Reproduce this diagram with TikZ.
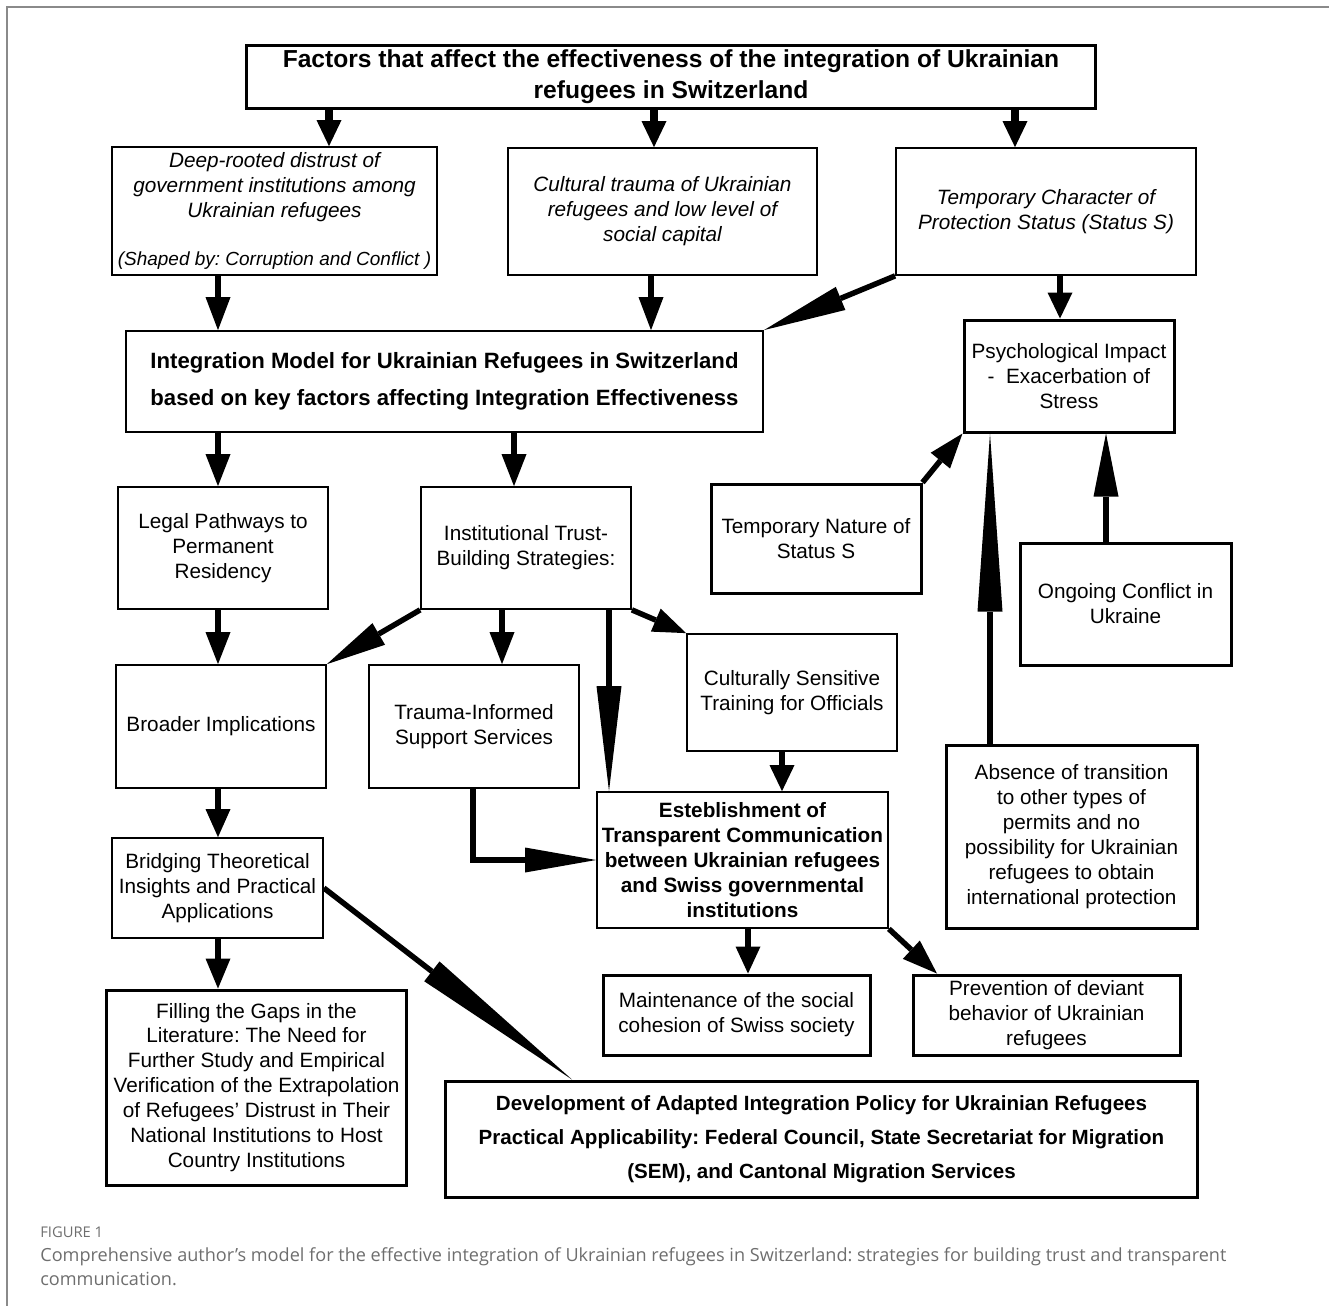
\documentclass[tikz,border=0pt]{standalone}
\usepackage{fontspec}
\setmainfont{Liberation Sans}
\newfontfamily\capfont{Open Sans}
\usetikzlibrary{arrows.meta}
\definecolor{capgray}{HTML}{6E6E6E}
\definecolor{framegray}{HTML}{8A8A8A}
\newcommand\bxfont{\fontsize{11.8}{14.2}\selectfont}
\frenchspacing

\begin{document}
\begin{tikzpicture}[x=0.2mm,y=-0.2mm,
 box/.style={draw,line width=0.35mm,align=center,inner sep=0pt,font=\bxfont},
 tbox/.style={box,line width=0.6mm},
 arr/.style={line width=1.1mm,-{Triangle[length=#1,width=5mm,line width=0pt]}},
 arr/.default=6.4mm,
 arrT/.style={arr=#1,line width=1.6mm}]
\useasboundingbox (0,0) rectangle (1329,1306);
\draw[framegray,line width=0.3mm] (7,1306) -- (7,7) -- (1329,7);

\node[tbox,minimum width=169.6mm,minimum height=12.6mm,font=\fontsize{14}{17.6}\selectfont\bfseries] (title) at (671,76.5)
 {Factors that affect the effectiveness of the integration of Ukrainian\\refugees in Switzerland};
\node[box,minimum width=65mm,minimum height=25.6mm,font=\bxfont\itshape] (distrust) at (274.5,211)
 {Deep-rooted distrust of\\government institutions among\\Ukrainian refugees\\[13pt]{\fontsize{10.8}{14.2}\selectfont(Shaped by: Corruption and Conflict )}};
\node[box,minimum width=61.8mm,minimum height=25.4mm,font=\bxfont\itshape] (trauma) at (662.5,211.5)
 {Cultural trauma of Ukrainian\\refugees and low level of\\social capital};
\node[box,minimum width=60mm,minimum height=25.4mm,font=\bxfont\itshape] (tempchar) at (1046,211.5)
 {Temporary Character of\\Protection Status (Status S)};
\node[box,minimum width=127.4mm,minimum height=20.2mm,font=\fontsize{12.6}{21}\selectfont\bfseries] (model) at (444.5,381.5)
 {Integration Model for Ukrainian Refugees in Switzerland\\based on key factors affecting Integration Effectiveness};
\node[tbox,minimum width=42mm,minimum height=22.4mm] (psych) at (1069,376)
 {Psychological Impact\\-~ Exacerbation of\\Stress};
\node[box,minimum width=42mm,minimum height=24.4mm] (legal) at (223,548)
 {Legal Pathways to\\Permanent\\Residency};
\node[box,minimum width=42mm,minimum height=24.4mm] (trust) at (526,548)
 {Institutional Trust-\\Building Strategies:};
\node[tbox,minimum width=42mm,minimum height=21.8mm] (tempnat) at (816,538.5)
 {Temporary Nature of\\Status S};
\node[tbox,minimum width=42.2mm,minimum height=24.4mm] (conflict) at (1125.5,604)
 {Ongoing Conflict in\\Ukraine};
\node[box,minimum width=42mm,minimum height=24.6mm] (broader) at (221,726.5)
 {Broader Implications};
\node[box,minimum width=42mm,minimum height=24.6mm] (traumasup) at (474,726.5)
 {Trauma-Informed\\Support Services};
\node[box,minimum width=42mm,minimum height=23.4mm] (cultural) at (792,692.5)
 {Culturally Sensitive\\Training for Officials};
\node[box,minimum width=58.2mm,minimum height=27.2mm,font=\bxfont\bfseries] (transp) at (742.5,860)
 {Esteblishment of\\Transparent Communication\\between Ukrainian refugees\\and Swiss governmental\\institutions};
\node[tbox,minimum width=50.2mm,minimum height=36.6mm] (absence) at (1071.5,836.5)
 {Absence of transition\\to other types of\\permits and no\\possibility for Ukrainian\\refugees to obtain\\international protection};
\node[box,minimum width=42.2mm,minimum height=20mm] (bridging) at (217.5,888)
 {Bridging Theoretical\\Insights and Practical\\Applications};
\node[tbox,minimum width=59.8mm,minimum height=39mm] (filling) at (256.5,1087.5)
 {Filling the Gaps in the\\Literature: The Need for\\Further Study and Empirical\\Verification of the Extrapolation\\of Refugees' Distrust in Their\\National Institutions to Host\\Country Institutions};
\node[tbox,minimum width=53.4mm,minimum height=16mm] (cohesion) at (736.5,1015)
 {Maintenance of the social\\cohesion of Swiss society};
\node[tbox,minimum width=53.4mm,minimum height=16mm] (deviant) at (1046.5,1015)
 {Prevention of deviant\\behavior of Ukrainian\\refugees};
\node[tbox,minimum width=150.2mm,minimum height=23.2mm,font=\fontsize{11.7}{19.3}\selectfont\bfseries] (policy) at (821.5,1139)
 {Development of Adapted Integration Policy for Ukrainian Refugees\\Practical Applicability: Federal Council, State Secretariat for Migration\\(SEM), and Cantonal Migration Services};

\draw[arrT=5.2mm] (title.south -| 329,0) -- (distrust.north -| 329,0);
\draw[arrT=5.2mm] (title.south -| 654,0) -- (trauma.north -| 654,0);
\draw[arrT=5.2mm] (title.south -| 1015,0) -- (tempchar.north -| 1015,0);
\draw[arr=6.6mm] (distrust.south -| 218,0) -- (model.north -| 218,0);
\draw[arr=6.6mm] (trauma.south -| 651,0) -- (model.north -| 651,0);
\draw[arr=16.6mm] (tempchar.south west) -- (model.north east);
\draw[arr=5.2mm] (tempchar.south -| 1060,0) -- (psych.north -| 1060,0);
\draw[arr] (model.south -| 218,0) -- (legal.north -| 218,0);
\draw[arr] (model.south -| 514,0) -- (trust.north -| 514,0);
\draw[arr=7mm] (tempnat.north east) -- (psych.south west);
\draw[arr=35.6mm] (absence.north -| 990,0) -- (psych.south -| 990,0);
\draw[arr=12.6mm] (conflict.north -| 1106,0) -- (psych.south -| 1106,0);
\draw[arr] (legal.south -| 218,0) -- (broader.north -| 218,0);
\draw[arr=12mm] (trust.south west) -- (broader.north east);
\draw[arr] (trust.south -| 502,0) -- (traumasup.north -| 502,0);
\draw[arr=21mm] (trust.south -| 609,0) -- (transp.north -| 609,0);
\draw[arr=6.6mm] (trust.south east) -- (cultural.north west);
\draw[arr=5.2mm] (cultural.south -| 782,0) -- (transp.north -| 782,0);
\draw[arr=14.2mm] (traumasup.south -| 473,0) |- (transp.west);
\draw[arr=5.6mm] (broader.south -| 218,0) -- (bridging.north -| 218,0);
\draw[arr=6mm] (bridging.south -| 218,0) -- (filling.north -| 218,0);
\draw[arr=35.4mm] (bridging.east) -- (policy.north -| 572,0);
\draw[arr=5.4mm] (transp.south -| 748,0) -- (cohesion.north -| 748,0);
\draw[arr=7mm] (transp.south east) -- (deviant.north -| 937,0);

\node[anchor=base west,inner sep=0pt,text=capgray,font=\capfont\fontsize{8.4}{9}\selectfont] (fig) at (40,1237) {FIGURE 1};
\node[anchor=base west,inner sep=0pt,text=capgray,align=left,font=\capfont\fontsize{10.3}{13.6}\selectfont] (caption) at (40,1285)
 {Comprehensive author’s model for the effective integration of Ukrainian refugees in Switzerland: strategies for building trust and transparent\\communication.};
\end{tikzpicture}
\end{document}
